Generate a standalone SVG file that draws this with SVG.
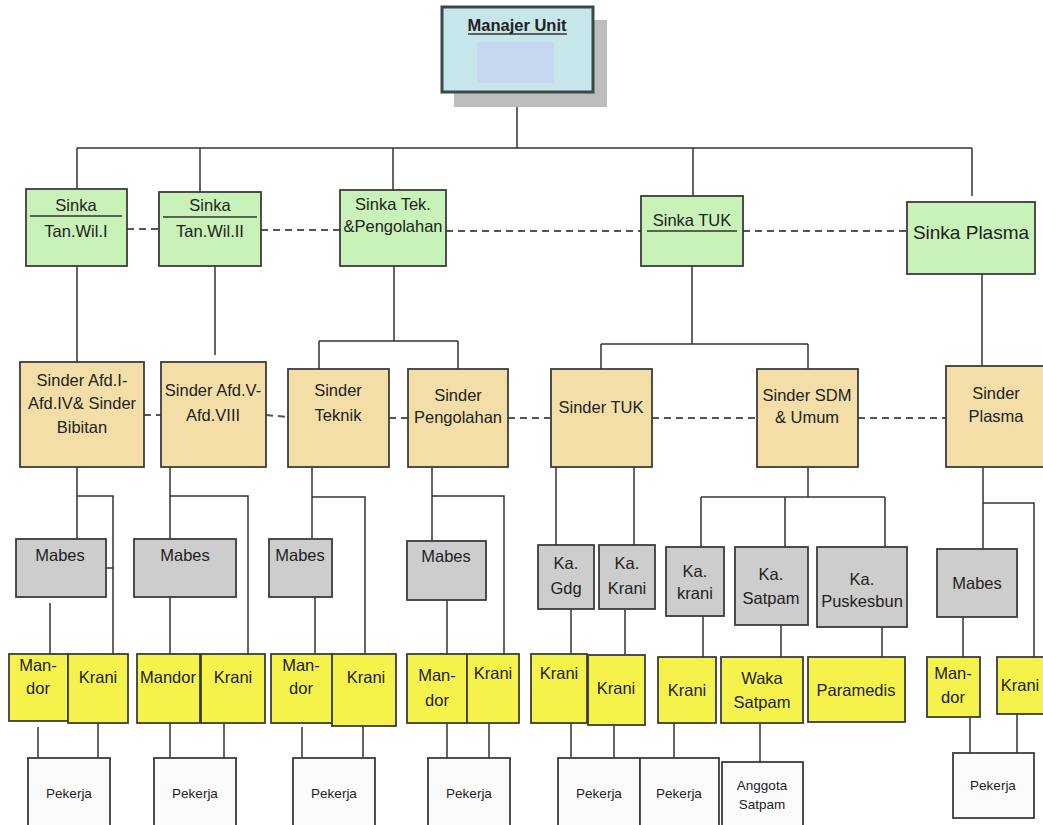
<svg xmlns="http://www.w3.org/2000/svg" width="1043" height="825" viewBox="0 0 1043 825">
<style>
text{font-family:"Liberation Sans",Arial,sans-serif;fill:#222;text-anchor:middle}
.t{font-size:16.5px}
.s{font-size:13.5px}
.box{stroke:#3c3c3c;stroke-width:1.8}
.g{fill:#c8f2b8}
.tan{fill:#f3dea8}
.gr{fill:#cdcdcd}
.y{fill:#f6f24c}
.w{fill:#fbfbfb}
.c path{fill:none;stroke:#333;stroke-width:1.5}
.d{fill:none;stroke:#555;stroke-width:2;stroke-dasharray:7 5}
.ul{stroke:#333;stroke-width:1.5}
</style>
<rect width="1043" height="825" fill="#ffffff"/>
<g class="c" id="connectors">
<path d="M517 92V148M77 148H972M77 148V189M200 148V192M393 148V190M693 148V196M972 148V196"/>
<path d="M77 266V362M215 266V355M394 266V341M319 341H458M319 341V369M458 341V369M692 266V344M601 344H808M601 344V369M808 344V369M982 274V366"/>
<path d="M77 467V539M77 496H113V654M106 568H113M50 603V654"/>
<path d="M170 467V539M170 496H248V654M170 597V654"/>
<path d="M312 467V539M312 497H365V654M315 597V654"/>
<path d="M432 467V541M432 496H504V654M447 600V654"/>
<path d="M556 467V545M634 467V545M571 609V654M625 609V655"/>
<path d="M808 467V497M701 497H885M701 497V547M785 497V547M885 497V547M703 616V657M781 625V657M882 627V657"/>
<path d="M983 467V549M983 503H1034V657M963 617V657"/>
<path d="M38 727V758M98 723V758M170 723V758M224 723V758M302 727V758M363 726V758M447 723V758M489 723V758M571 723V758M614 725V758M674 723V758M760 723V762M970 717V753M1017 714V753"/>
<line class="d" x1="127" y1="229" x2="159" y2="229"/>
<line class="d" x1="261" y1="230" x2="340" y2="230"/>
<line class="d" x1="446" y1="231" x2="641" y2="231"/>
<line class="d" x1="743" y1="231" x2="907" y2="231"/>
<line class="d" x1="144" y1="415" x2="161" y2="415"/>
<line class="d" x1="266" y1="415" x2="288" y2="417"/>
<line class="d" x1="389" y1="418" x2="408" y2="418"/>
<line class="d" x1="508" y1="418" x2="551" y2="418"/>
<line class="d" x1="652" y1="418" x2="757" y2="418"/>
<line class="d" x1="858" y1="418" x2="946" y2="418"/>
</g>
<g id="manajer-unit">
<rect x="454" y="20" width="153" height="87" fill="#bdbdbd"/>
<rect x="442" y="7" width="151" height="85" fill="#c7e6ea" stroke="#3a4848" stroke-width="3"/>
<rect x="477" y="42" width="77" height="41" fill="#c6d8f0"/>
<text x="517" y="31" style="font-size:16.5px;font-weight:bold">Manajer Unit</text>
<line class="ul" x1="468" y1="34" x2="567" y2="34"/>
</g>
<g id="sinka-tan-wil-1"><rect class="box g" x="26" y="189" width="101" height="77"/><text class="t" x="76" y="211">Sinka</text><line class="ul" x1="30" y1="216" x2="122" y2="216"/><text class="t" x="76" y="237">Tan.Wil.I</text></g>
<g id="sinka-tan-wil-2"><rect class="box g" x="159" y="192" width="102" height="74"/><text class="t" x="210" y="211">Sinka</text><line class="ul" x1="163" y1="217" x2="257" y2="217"/><text class="t" x="210" y="237">Tan.Wil.II</text></g>
<g id="sinka-tek"><rect class="box g" x="340" y="190" width="106" height="76"/><text class="t" x="393" y="210">Sinka Tek.</text><text class="t" x="393" y="232">&amp;Pengolahan</text></g>
<g id="sinka-tuk"><rect class="box g" x="641" y="196" width="102" height="70"/><text class="t" x="692" y="226">Sinka TUK</text><line class="ul" x1="647" y1="231" x2="737" y2="231"/></g>
<g id="sinka-plasma"><rect class="box g" x="907" y="202" width="128" height="72"/><text x="971" y="239" style="font-size:19px">Sinka Plasma</text></g>
<g id="sinder-afd-1"><rect class="box tan" x="20" y="362" width="124" height="105"/><text class="t" x="82" y="386">Sinder Afd.I-</text><text class="t" x="82" y="409">Afd.IV&amp; Sinder</text><text class="t" x="82" y="433">Bibitan</text></g>
<g id="sinder-afd-5"><rect class="box tan" x="161" y="362" width="105" height="105"/><text class="t" x="213" y="396">Sinder Afd.V-</text><text class="t" x="213" y="421">Afd.VIII</text></g>
<g id="sinder-teknik"><rect class="box tan" x="288" y="369" width="101" height="98"/><text class="t" x="338" y="396">Sinder</text><text class="t" x="338" y="421">Teknik</text></g>
<g id="sinder-pengolahan"><rect class="box tan" x="408" y="369" width="100" height="98"/><text class="t" x="458" y="401">Sinder</text><text class="t" x="458" y="423">Pengolahan</text></g>
<g id="sinder-tuk"><rect class="box tan" x="551" y="369" width="101" height="98"/><text class="t" x="601" y="413">Sinder TUK</text></g>
<g id="sinder-sdm"><rect class="box tan" x="757" y="369" width="101" height="98"/><text class="t" x="807" y="401">Sinder SDM</text><text class="t" x="807" y="423">&amp; Umum</text></g>
<g id="sinder-plasma"><rect class="box tan" x="946" y="366" width="104" height="101"/><text class="t" x="996" y="399">Sinder</text><text class="t" x="996" y="422">Plasma</text></g>
<g id="mabes-1"><rect class="box gr" x="16" y="539" width="90" height="58"/><text class="t" x="60" y="561">Mabes</text></g>
<g id="mabes-2"><rect class="box gr" x="134" y="539" width="102" height="58"/><text class="t" x="185" y="561">Mabes</text></g>
<g id="mabes-3"><rect class="box gr" x="269" y="539" width="63" height="58"/><text class="t" x="300" y="561">Mabes</text></g>
<g id="mabes-4"><rect class="box gr" x="407" y="541" width="79" height="59"/><text class="t" x="446" y="562">Mabes</text></g>
<g id="ka-gdg"><rect class="box gr" x="538" y="545" width="56" height="64"/><text class="t" x="566" y="569">Ka.</text><text class="t" x="566" y="594">Gdg</text></g>
<g id="ka-krani-tuk"><rect class="box gr" x="599" y="545" width="56" height="64"/><text class="t" x="627" y="569">Ka.</text><text class="t" x="627" y="594">Krani</text></g>
<g id="ka-krani-sdm"><rect class="box gr" x="666" y="547" width="58" height="69"/><text class="t" x="695" y="577">Ka.</text><text class="t" x="695" y="599">krani</text></g>
<g id="ka-satpam"><rect class="box gr" x="735" y="547" width="73" height="78"/><text class="t" x="771" y="580">Ka.</text><text class="t" x="771" y="604">Satpam</text></g>
<g id="ka-puskesbun"><rect class="box gr" x="817" y="547" width="90" height="80"/><text class="t" x="862" y="585">Ka.</text><text class="t" x="862" y="607">Puskesbun</text></g>
<g id="mabes-5"><rect class="box gr" x="937" y="549" width="80" height="68"/><text class="t" x="977" y="589">Mabes</text></g>
<g id="mandor-1"><rect class="box y" x="9" y="654" width="59" height="67"/><text class="t" x="38" y="671">Man-</text><text class="t" x="38" y="694">dor</text></g>
<g id="krani-1"><rect class="box y" x="68" y="654" width="60" height="69"/><text class="t" x="98" y="683">Krani</text></g>
<g id="mandor-2"><rect class="box y" x="137" y="654" width="63" height="69"/><text class="t" x="168" y="683">Mandor</text></g>
<g id="krani-2"><rect class="box y" x="201" y="654" width="64" height="69"/><text class="t" x="233" y="683">Krani</text></g>
<g id="mandor-3"><rect class="box y" x="271" y="654" width="61" height="69"/><text class="t" x="301" y="671">Man-</text><text class="t" x="301" y="694">dor</text></g>
<g id="krani-3"><rect class="box y" x="332" y="654" width="64" height="72"/><text class="t" x="366" y="683">Krani</text></g>
<g id="mandor-4"><rect class="box y" x="407" y="654" width="60" height="69"/><text class="t" x="437" y="681">Man-</text><text class="t" x="437" y="706">dor</text></g>
<g id="krani-4"><rect class="box y" x="467" y="654" width="52" height="69"/><text class="t" x="493" y="679">Krani</text></g>
<g id="krani-tuk-1"><rect class="box y" x="531" y="654" width="56" height="69"/><text class="t" x="559" y="679">Krani</text></g>
<g id="krani-tuk-2"><rect class="box y" x="588" y="655" width="57" height="70"/><text class="t" x="616" y="694">Krani</text></g>
<g id="krani-sdm"><rect class="box y" x="658" y="657" width="58" height="66"/><text class="t" x="687" y="696">Krani</text></g>
<g id="waka-satpam"><rect class="box y" x="721" y="657" width="82" height="66"/><text class="t" x="762" y="684">Waka</text><text class="t" x="762" y="708">Satpam</text></g>
<g id="paramedis"><rect class="box y" x="808" y="657" width="97" height="65"/><text class="t" x="856" y="696">Paramedis</text></g>
<g id="mandor-5"><rect class="box y" x="927" y="657" width="53" height="60"/><text class="t" x="953" y="679">Man-</text><text class="t" x="953" y="703">dor</text></g>
<g id="krani-5"><rect class="box y" x="997" y="657" width="50" height="57"/><text class="t" x="1020" y="691">Krani</text></g>
<g id="pekerja-1"><rect class="box w" x="28" y="758" width="82" height="72"/><text class="s" x="69" y="798">Pekerja</text></g>
<g id="pekerja-2"><rect class="box w" x="154" y="758" width="82" height="72"/><text class="s" x="195" y="798">Pekerja</text></g>
<g id="pekerja-3"><rect class="box w" x="293" y="758" width="82" height="72"/><text class="s" x="334" y="798">Pekerja</text></g>
<g id="pekerja-4"><rect class="box w" x="428" y="758" width="82" height="72"/><text class="s" x="469" y="798">Pekerja</text></g>
<g id="pekerja-5"><rect class="box w" x="558" y="758" width="82" height="72"/><text class="s" x="599" y="798">Pekerja</text></g>
<g id="pekerja-6"><rect class="box w" x="640" y="758" width="79" height="72"/><text class="s" x="679" y="798">Pekerja</text></g>
<g id="anggota-satpam"><rect class="box w" x="722" y="762" width="81" height="68"/><text class="s" x="762" y="790">Anggota</text><text class="s" x="762" y="809">Satpam</text></g>
<g id="pekerja-7"><rect class="box w" x="953" y="753" width="81" height="65"/><text class="s" x="993" y="790">Pekerja</text></g>
</svg>
